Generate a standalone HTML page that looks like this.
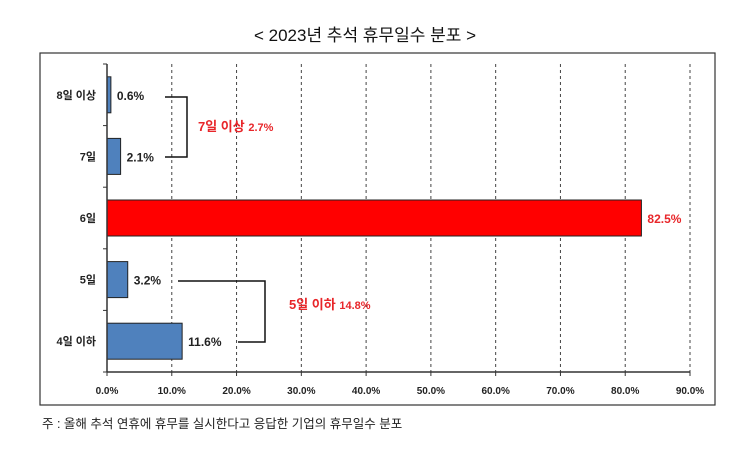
<!DOCTYPE html>
<html><head><meta charset="utf-8"><style>
body{margin:0;background:#fff;}
svg text{font-family:"Liberation Sans","Noto Sans CJK KR",sans-serif;}
</style></head><body>
<svg width="730" height="455" viewBox="0 0 730 455">
<text x="365" y="41" text-anchor="middle" font-size="17" fill="#111">&lt; 2023년 추석 휴무일수 분포 &gt;</text>
<rect x="40" y="53" width="675" height="352" fill="none" stroke="#333" stroke-width="1.2"/>
<g id="grid"></g><g id="bars"></g><g id="axis"></g>
<g>
<path d="M165 97 H187 V157 H165" fill="none" stroke="#111" stroke-width="1.5"/>
<text x="198" y="131" font-size="13" font-weight="bold" fill="#e8262a">7일 이상 <tspan font-size="11">2.7%</tspan></text>
</g>
<g>
<path d="M178 281 H265 V342 H238" fill="none" stroke="#111" stroke-width="1.5"/>
<text x="289" y="309" font-size="13" font-weight="bold" fill="#e8262a">5일 이하 <tspan font-size="11">14.8%</tspan></text>
</g>
<text x="42" y="428" font-size="12.5" fill="#222">주 : 올해 추석 연휴에 휴무를 실시한다고 응답한 기업의 휴무일수 분포</text>
</svg>
<script>
const categories=["8일 이상","7일","6일","5일","4일 이하"];
const values=[0.6,2.1,82.5,3.2,11.6];
const valueLabels=["0.6%","2.1%","82.5%","3.2%","11.6%"];
const ticks=[0,10,20,30,40,50,60,70,80,90];
const tickLabels=["0.0%","10.0%","20.0%","30.0%","40.0%","50.0%","60.0%","70.0%","80.0%","90.0%"];
const NS="http://www.w3.org/2000/svg";
const x0=107,x1=690,yTop=64,yBot=372;
const xs=v=>x0+(v/90)*(x1-x0);
const band=(yBot-yTop)/categories.length;
const yc=i=>yTop+band*(i+0.5);
function mk(t,a,p){const e=document.createElementNS(NS,t);for(const k in a)e.setAttribute(k,a[k]);p.appendChild(e);return e;}
const g=document.getElementById('grid'),b=document.getElementById('bars'),ax=document.getElementById('axis');
ticks.forEach((t,i)=>{
 if(t>0){const l=mk('line',{x1:xs(t),x2:xs(t),y1:yTop,y2:yBot,stroke:'#444','stroke-dasharray':'3,3','stroke-width':1},g);
 
 }
 const tk=mk('line',{x1:xs(t),x2:xs(t),y1:yBot,y2:yBot+4,stroke:'#333'},ax);
 
 
 const tx=mk('text',{x:xs(t),y:yBot+22,'text-anchor':'middle','font-size':10,'font-weight':'bold',fill:'#222'},ax);
 tx.textContent=tickLabels[i];
 
 
});
const al=mk('line',{x1:x0,x2:x1,y1:yBot,y2:yBot,stroke:'#333','stroke-width':1.5},ax);


const yl=mk('line',{x1:x0,x2:x0,y1:yTop,y2:yBot,stroke:'#333','stroke-width':1.5},ax);


for(let i=0;i<=categories.length;i++){const tk=mk('line',{x1:x0-4,x2:x0,y1:yTop+band*i,y2:yTop+band*i,stroke:'#333'},ax);
 
 }
categories.forEach((c,i)=>{
 const red=i===2;
 const r=mk('rect',{x:x0,y:yc(i)-18,width:xs(values[i])-x0,height:36,fill:red?'#ff0000':'#4f81bd',stroke:'#222','stroke-width':1},b);
 
 
 const lab=mk('text',{x:x0-11,y:yc(i)+4,'text-anchor':'end','font-size':11,'font-weight':'bold',fill:'#222'},ax);
 lab.textContent=c;
 
 
 const v=mk('text',{x:xs(values[i])+6,y:yc(i)+5,'font-size':12,'font-weight':'bold',fill:red?'#e8262a':'#222'},b);
 v.textContent=valueLabels[i];
 
 
});
</script>
</body></html>
